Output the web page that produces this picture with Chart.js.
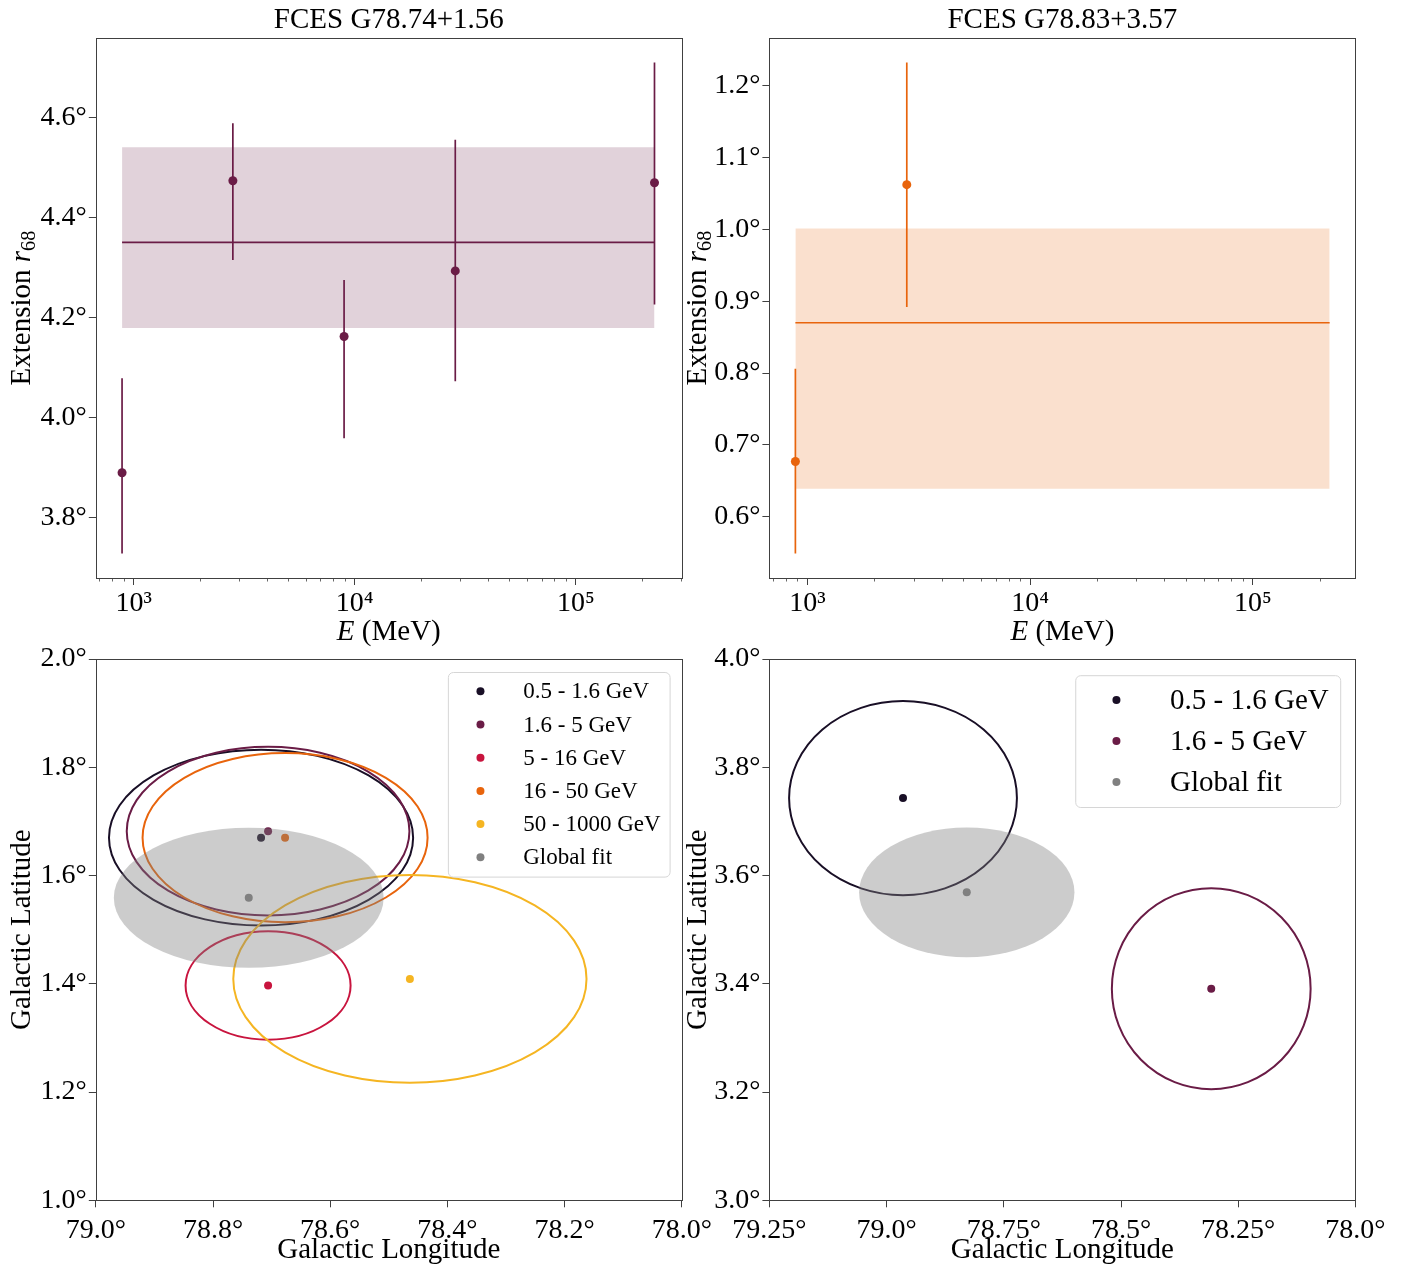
<!DOCTYPE html>
<html>
<head>
<meta charset="utf-8">
<script src="https://cdn.jsdelivr.net/npm/chart.js@4.4.1/dist/chart.umd.min.js"></script>
<style>
  html, body { margin: 0; padding: 0; background: #fff; }
  #fig { position: relative; width: 1402px; height: 1268px; overflow: hidden; background: #fff; }
  #fig canvas { position: absolute; }
</style>
</head>
<body>
<div id="fig">
  <canvas id="extA" width="730" height="650" style="left:0;top:0"></canvas>
  <canvas id="extB" width="730" height="650" style="left:672px;top:0"></canvas>
  <canvas id="skyA" width="730" height="628" style="left:0;top:640px"></canvas>
  <canvas id="skyB" width="730" height="628" style="left:672px;top:640px"></canvas>
</div>
<script>
// ---- colours
const COLOR_BLACK = '#190f26';
const COLOR_PURPLE = '#6a1c46';
const COLOR_CRIMSON = '#c8143e';
const COLOR_ORANGE = '#e8640c';
const COLOR_GOLD = '#f5b522';
const COLOR_GRAY = '#808080';
const FRAME = '#404040';
const FONT = '"Liberation Serif", "DejaVu Serif", "Times New Roman", serif';

// ---- energy axis (shared by the two top panels)
const energyTicks = [1e3, 1e4, 1e5];
const energyTickLabels = ['10³', '10⁴', '10⁵'];
const energyMinorDecades = [1e2, 1e3, 1e4, 1e5];

// ---- FCES G78.74+1.56, extension per energy bin
const energyA = [886, 2810, 8950, 28500, 227000];
const extA = [3.890, 4.473, 4.162, 4.293, 4.469];
const extLoA = [3.729, 4.315, 3.959, 4.073, 4.226];
const extHiA = [4.079, 4.588, 4.275, 4.555, 4.709];
const fitBandEnergyA = [886, 227000];
const fitA = [4.350, 4.179, 4.540]; // best, low, high
const energyRangeA = [674, 301700];
const extRangeA = [3.680, 4.758];
const extTicksA = [3.8, 4.0, 4.2, 4.4, 4.6];
const extTickLabelsA = ['3.8°', '4.0°', '4.2°', '4.4°', '4.6°'];

// ---- FCES G78.83+3.57, extension per energy bin
const energyB = [883, 2793];
const extB = [0.677, 1.062];
const extLoB = [0.549, 0.892];
const extHiB = [0.806, 1.232];
const fitBandEnergyB = [883, 221000];
const fitB = [0.870, 0.639, 1.001];
const energyRangeB = [675, 288400];
const extRangeB = [0.515, 1.266];
const extTicksB = [0.6, 0.7, 0.8, 0.9, 1.0, 1.1, 1.2];
const extTickLabelsB = ['0.6°', '0.7°', '0.8°', '0.9°', '1.0°', '1.1°', '1.2°'];

// ---- positions per energy bin, G78.74+1.56
const bandLabelsA = ['0.5 - 1.6 GeV', '1.6 - 5 GeV', '5 - 16 GeV', '16 - 50 GeV', '50 - 1000 GeV'];
const bandColorsA = [COLOR_BLACK, COLOR_PURPLE, COLOR_CRIMSON, COLOR_ORANGE, COLOR_GOLD];
const lonA = [78.718, 78.706, 78.706, 78.677, 78.464];
const latA = [1.670, 1.682, 1.397, 1.670, 1.409];
const errLonA = [0.2595, 0.2412, 0.1408, 0.2432, 0.3014];
const errLatA = [0.1624, 0.1557, 0.1002, 0.1564, 0.1919];
const globalA = [78.739, 1.559, 0.2302, 0.1294]; // lon, lat, errLon, errLat
const lonTicksA = [79.0, 78.8, 78.6, 78.4, 78.2, 78.0];
const lonTickLabelsA = ['79.0°', '78.8°', '78.6°', '78.4°', '78.2°', '78.0°'];
const latTicksA = [1.0, 1.2, 1.4, 1.6, 1.8, 2.0];
const latTickLabelsA = ['1.0°', '1.2°', '1.4°', '1.6°', '1.8°', '2.0°'];

// ---- positions per energy bin, G78.83+3.57
const bandLabelsB = ['0.5 - 1.6 GeV', '1.6 - 5 GeV'];
const bandColorsB = [COLOR_BLACK, COLOR_PURPLE];
const lonB = [78.965, 78.3075];
const latB = [3.743, 3.391];
const errLonB = [0.243, 0.212];
const errLatB = [0.1794, 0.1857];
const globalB = [78.829, 3.569, 0.2297, 0.1198];
const lonTicksB = [79.25, 79.0, 78.75, 78.5, 78.25, 78.0];
const lonTickLabelsB = ['79.25°', '79.0°', '78.75°', '78.5°', '78.25°', '78.0°'];
const latTicksB = [3.0, 3.2, 3.4, 3.6, 3.8, 4.0];
const latTickLabelsB = ['3.0°', '3.2°', '3.4°', '3.6°', '3.8°', '4.0°'];

Chart.defaults.font.family = FONT;
Chart.defaults.color = '#000';

function hexA(hex, a) {
  const n = parseInt(hex.slice(1), 16);
  return `rgba(${n >> 16},${(n >> 8) & 255},${n & 255},${a})`;
}

// frame round the plot area, plus short minor ticks on a log axis
function framePlugin(minorDecades) {
  return {
    id: 'frame',
    afterDraw(chart) {
      const { ctx, chartArea: a } = chart;
      ctx.save();
      ctx.strokeStyle = FRAME;
      ctx.lineWidth = 1;
      ctx.strokeRect(Math.round(a.left) + 0.5, Math.round(a.top) + 0.5,
        Math.round(a.right - a.left), Math.round(a.bottom - a.top));
      if (minorDecades) {
        const sx = chart.scales.x;
        ctx.lineWidth = 0.8;
        minorDecades.forEach(d => {
          for (let m = 2; m <= 9; m++) {
            const v = m * d;
            if (v < sx.min || v > sx.max) continue;
            const px = Math.round(sx.getPixelForValue(v)) + 0.5;
            ctx.beginPath();
            ctx.moveTo(px, a.bottom);
            ctx.lineTo(px, a.bottom + 3.5);
            ctx.stroke();
          }
        });
      }
      ctx.restore();
    },
  };
}

// axis titles with mixed italic / subscript parts
function richTitlePlugin(items) {
  return {
    id: 'richTitle',
    afterDraw(chart) {
      const { ctx, chartArea: a } = chart;
      items.forEach(item => {
        const size = item.size;
        ctx.save();
        if (item.axis === 'y') {
          ctx.translate(item.at, (a.top + a.bottom) / 2);
          ctx.rotate(-Math.PI / 2);
        } else {
          ctx.translate((a.left + a.right) / 2, a.bottom + item.at);
        }
        const parts = item.parts.map(p => {
          const s = p.sub ? size * 0.7 : size;
          const font = `${p.italic ? 'italic ' : ''}${s}px ${FONT}`;
          ctx.font = font;
          return { ...p, font, w: ctx.measureText(p.text).width };
        });
        let x = -parts.reduce((t, p) => t + p.w, 0) / 2;
        ctx.textBaseline = 'middle';
        ctx.textAlign = 'left';
        ctx.fillStyle = '#000';
        parts.forEach(p => {
          ctx.font = p.font;
          ctx.fillText(p.text, x, p.sub ? size * 0.25 : 0);
          x += p.w;
        });
        ctx.restore();
      });
    },
  };
}

function drawEllipse(chart, e, filled) {
  const { ctx, chartArea: a, scales: { x: sx, y: sy } } = chart;
  const cx = sx.getPixelForValue(e.lon);
  const cy = sy.getPixelForValue(e.lat);
  const rx = Math.abs(sx.getPixelForValue(e.lon + e.dLon) - cx);
  const ry = Math.abs(sy.getPixelForValue(e.lat + e.dLat) - cy);
  ctx.save();
  ctx.beginPath();
  ctx.rect(a.left, a.top, a.right - a.left, a.bottom - a.top);
  ctx.clip();
  ctx.beginPath();
  ctx.ellipse(cx, cy, rx, ry, 0, 0, Math.PI * 2);
  if (filled) {
    ctx.fillStyle = e.color;
    ctx.fill();
  } else {
    ctx.strokeStyle = e.color;
    ctx.lineWidth = 2;
    ctx.stroke();
  }
  ctx.restore();
}

function ellipsePlugin(outlines, filled) {
  return {
    id: 'ellipses',
    beforeDatasetsDraw(chart) { outlines.forEach(e => drawEllipse(chart, e, false)); },
    afterDatasetsDraw(chart) { drawEllipse(chart, filled, true); },
  };
}

// legend box inside the plot, upper right
function boxLegendPlugin(o) {
  return {
    id: 'boxLegend',
    afterDraw(chart) {
      const { ctx, chartArea: a } = chart;
      const sets = chart.data.datasets.filter(d => d.label);
      ctx.save();
      ctx.font = `${o.size}px ${FONT}`;
      const tw = Math.max(...sets.map(d => ctx.measureText(d.label).width));
      const w = o.textX + tw + o.padR;
      const h = (sets.length - 1) * o.rowH + 2 * o.padY;
      const x0 = a.right - o.right - w;
      const y0 = a.top + o.top;
      ctx.beginPath();
      ctx.roundRect(x0 + 0.5, y0 + 0.5, w, h, 5);
      ctx.fillStyle = 'rgba(255,255,255,0.8)';
      ctx.fill();
      ctx.strokeStyle = '#d6d6d6';
      ctx.lineWidth = 1;
      ctx.stroke();
      ctx.textBaseline = 'middle';
      ctx.textAlign = 'left';
      sets.forEach((d, i) => {
        const cy = y0 + o.padY + i * o.rowH;
        ctx.beginPath();
        ctx.arc(x0 + o.markerX, cy, 4, 0, Math.PI * 2);
        ctx.fillStyle = d.backgroundColor;
        ctx.fill();
        ctx.fillStyle = '#000';
        ctx.fillText(d.label, x0 + o.textX, cy + 1);
      });
      ctx.restore();
    },
  };
}

function axisBase(ticks, labels, fit, pad) {
  return {
    afterBuildTicks: s => { s.ticks = ticks.map(v => ({ value: v })); },
    afterFit: fit,
    grid: { drawOnChartArea: false, drawTicks: true, tickLength: 7, color: FRAME, lineWidth: 1 },
    border: { display: false },
    ticks: {
      font: { size: 28 }, color: '#000', autoSkip: false, maxRotation: 0, minRotation: 0, padding: pad,
      callback: (v, i) => labels[i],
    },
  };
}

function makeEnergyChart(id, c) {
  const errorBars = [];
  c.energy.forEach((e, i) => {
    errorBars.push({ x: e, y: c.lo[i] }, { x: e, y: c.hi[i] }, { x: e, y: null });
  });
  const line = y => c.bandE.map(x => ({ x, y }));
  const xAxis = axisBase(energyTicks, energyTickLabels, s => { s.height = 72; }, 2);
  Object.assign(xAxis, { type: 'logarithmic', min: c.xRange[0], max: c.xRange[1] });
  const yAxis = axisBase(c.yTicks, c.yLabels, s => { s.width = c.axisW; }, 2);
  Object.assign(yAxis, { type: 'linear', min: c.yRange[0], max: c.yRange[1] });

  return new Chart(document.getElementById(id), {
    type: 'scatter',
    data: {
      datasets: [
        { data: c.energy.map((x, i) => ({ x, y: c.ext[i] })), backgroundColor: c.color, pointRadius: 4.5, borderWidth: 0 },
        { data: errorBars, showLine: true, borderColor: c.color, borderWidth: 1.7, pointRadius: 0, spanGaps: false },
        { data: line(c.fit[0]), showLine: true, borderColor: c.color, borderWidth: 1.7, pointRadius: 0 },
        { data: line(c.fit[2]), showLine: true, borderWidth: 0, borderColor: 'rgba(0,0,0,0)', pointRadius: 0,
          fill: '+1', backgroundColor: hexA(c.color, 0.2) },
        { data: line(c.fit[1]), showLine: true, borderWidth: 0, borderColor: 'rgba(0,0,0,0)', pointRadius: 0, fill: false },
      ],
    },
    options: {
      responsive: false,
      devicePixelRatio: 1,
      animation: false,
      layout: { padding: { left: 0, top: 0, right: c.padR, bottom: 0 }, autoPadding: false },
      plugins: {
        legend: { display: false },
        tooltip: { enabled: false },
        title: {
          display: true, text: c.title, fullSize: false, color: '#000',
          font: { size: 29, weight: 'normal', lineHeight: 1.2 }, padding: { top: 3, bottom: 0.2 },
        },
      },
      scales: { x: xAxis, y: yAxis },
    },
    plugins: [
      framePlugin(energyMinorDecades),
      richTitlePlugin([
        { axis: 'y', at: c.yTitleAt, size: 29,
          parts: [{ text: 'Extension ' }, { text: 'r', italic: true }, { text: '68', sub: true }] },
        { axis: 'x', at: 54, size: 29,
          parts: [{ text: 'E', italic: true }, { text: ' (MeV)' }] },
      ]),
    ],
  });
}

function makeSkyChart(id, c) {
  const datasets = c.labels.map((label, i) => ({
    label, data: [{ x: c.lon[i], y: c.lat[i] }],
    backgroundColor: c.colors[i], pointRadius: 4, borderWidth: 0,
  }));
  datasets.push({
    label: 'Global fit', data: [{ x: c.global[0], y: c.global[1] }],
    backgroundColor: COLOR_GRAY, pointRadius: 4, borderWidth: 0,
  });
  const outlines = c.labels.map((_, i) => ({
    lon: c.lon[i], lat: c.lat[i], dLon: c.errLon[i], dLat: c.errLat[i], color: c.colors[i],
  }));
  const filled = { lon: c.global[0], lat: c.global[1], dLon: c.global[2], dLat: c.global[3], color: hexA(COLOR_GRAY, 0.4) };

  const xAxis = axisBase(c.xTicks, c.xLabels, s => { s.height = 67.7; }, 7);
  Object.assign(xAxis, {
    type: 'linear', reverse: true, min: c.xRange[0], max: c.xRange[1],
    title: { display: true, text: 'Galactic Longitude', color: '#000',
      font: { size: 29, lineHeight: 1.2 }, padding: { top: 0, bottom: 0 } },
  });
  const yAxis = axisBase(c.yTicks, c.yLabels, s => { s.width = c.axisW; }, 2);
  Object.assign(yAxis, {
    type: 'linear', min: c.yRange[0], max: c.yRange[1],
    title: { display: true, text: 'Galactic Latitude', color: '#000',
      font: { size: 29, lineHeight: 1.2 }, padding: { top: c.yTitlePad, bottom: 0 } },
  });

  return new Chart(document.getElementById(id), {
    type: 'scatter',
    data: { datasets },
    options: {
      responsive: false,
      devicePixelRatio: 1,
      animation: false,
      layout: { padding: { left: 0, top: 19, right: c.padR, bottom: 0 }, autoPadding: false },
      plugins: { legend: { display: false }, tooltip: { enabled: false } },
      scales: { x: xAxis, y: yAxis },
    },
    plugins: [framePlugin(null), ellipsePlugin(outlines, filled), boxLegendPlugin(c.legend)],
  });
}

makeEnergyChart('extA', {
  title: 'FCES G78.74+1.56', color: COLOR_PURPLE,
  energy: energyA, ext: extA, lo: extLoA, hi: extHiA, bandE: fitBandEnergyA, fit: fitA,
  xRange: energyRangeA, yRange: extRangeA, yTicks: extTicksA, yLabels: extTickLabelsA,
  axisW: 95.8, padR: 48.2, yTitleAt: 22,
});

makeEnergyChart('extB', {
  title: 'FCES G78.83+3.57', color: COLOR_ORANGE,
  energy: energyB, ext: extB, lo: extLoB, hi: extHiB, bandE: fitBandEnergyB, fit: fitB,
  xRange: energyRangeB, yRange: extRangeB, yTicks: extTicksB, yLabels: extTickLabelsB,
  axisW: 97.4, padR: 46.6, yTitleAt: 26,
});

makeSkyChart('skyA', {
  labels: bandLabelsA, colors: bandColorsA, lon: lonA, lat: latA, errLon: errLonA, errLat: errLatA,
  global: globalA, xRange: [78.0, 79.0], xTicks: lonTicksA, xLabels: lonTickLabelsA,
  yRange: [1.0, 2.0], yTicks: latTicksA, yLabels: latTickLabelsA,
  axisW: 95.8, padR: 48.2, yTitlePad: 4.6,
  legend: { size: 23, rowH: 33.2, padY: 19.3, markerX: 32.6, textX: 75.4, padR: 9, right: 12.2, top: 13 },
});

makeSkyChart('skyB', {
  labels: bandLabelsB, colors: bandColorsB, lon: lonB, lat: latB, errLon: errLonB, errLat: errLatB,
  global: globalB, xRange: [78.0, 79.25], xTicks: lonTicksB, xLabels: lonTickLabelsB,
  yRange: [3.0, 4.0], yTicks: latTicksB, yLabels: latTickLabelsB,
  axisW: 97.4, padR: 46.6, yTitlePad: 8.6,
  legend: { size: 29, rowH: 41, padY: 24.9, markerX: 41.2, textX: 94.8, padR: 11.5, right: 15.2, top: 16.2 },
});
</script>
</body>
</html>
